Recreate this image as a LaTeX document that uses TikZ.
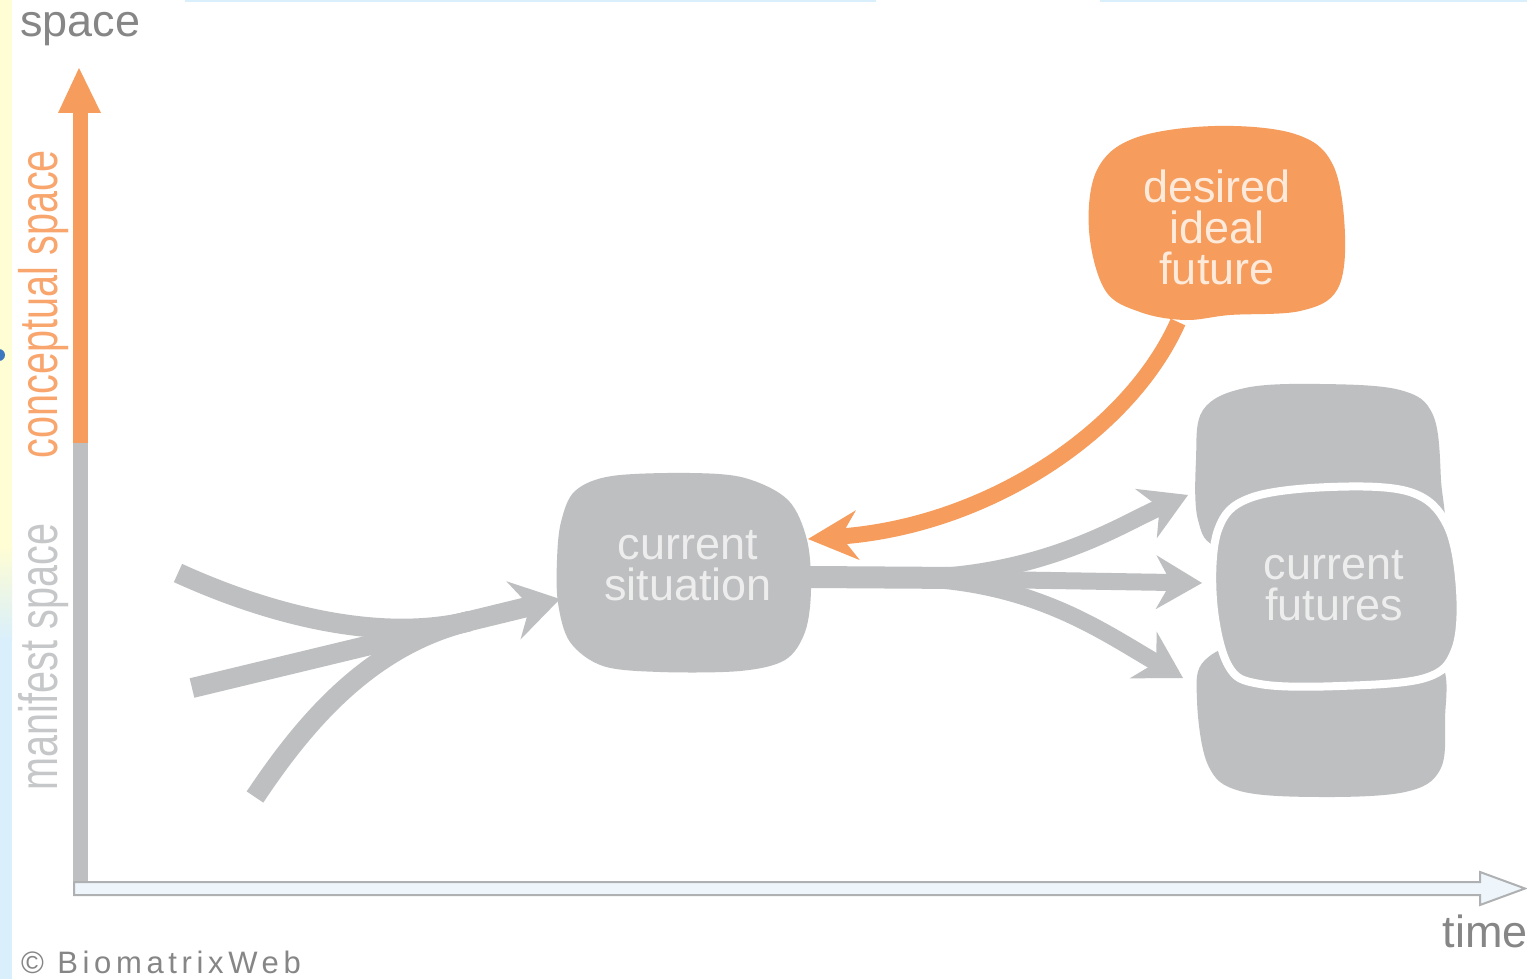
\documentclass[tikz,border=0pt]{standalone}
\usepackage{fontspec}
\setmainfont{Liberation Sans}
\newfontfamily\spacedfont[LetterSpace=15]{Liberation Sans}
\usetikzlibrary{arrows.meta}
\definecolor{blobgray}{HTML}{BEBFC1}
\definecolor{blobor}{HTML}{F69C5C}
\definecolor{lblor}{HTML}{F8A66E}
\definecolor{lblgray}{HTML}{C6C7C9}
\definecolor{txtgray}{HTML}{868686}
\definecolor{intxt}{HTML}{EDEDED}
\definecolor{intxtor}{HTML}{FDEADB}
\definecolor{stripy}{HTML}{FFFDD3}
\definecolor{stripb}{HTML}{D9EFFB}
\definecolor{axisfill}{HTML}{EEF6FC}
\definecolor{axisline}{HTML}{AEB0B2}
\definecolor{dotblue}{HTML}{3C78C0}
\begin{document}
\begin{tikzpicture}[x=1pt,y=-1pt,
  flow/.style={draw=blobgray, line width=20pt, line cap=butt},
  branch/.style={draw=blobgray, line width=17pt, line cap=butt,
    -{Stealth[length=46pt,width=54pt,inset=15pt,line width=0pt]}},
  lefthead/.style={-{Stealth[length=48pt,width=60pt,inset=17pt,line width=0pt]}},
  orangearrow/.style={draw=blobor, line width=16pt, line cap=butt,
    -{Stealth[length=50pt,width=50pt,inset=17pt,line width=0pt]}},
  bigtxt/.style={font=\fontsize{45}{41}\selectfont, align=center, inner sep=0pt},
  axislbl/.style={font=\fontsize{45}{45}\selectfont, text=txtgray, inner sep=0pt},
  sidelbl/.style={font=\fontsize{54}{54}\selectfont, inner sep=0pt, rotate=90, anchor=base}
]
\useasboundingbox (0,0) rectangle (1527,979);
% screenshot background
\fill[white] (0,0) rectangle (1527,979);
\fill[stripy] (0,0) rectangle (12,545);
\shade[top color=stripy, bottom color=stripb] (0,545) rectangle (12,640);
\fill[stripb] (0,640) rectangle (12,979);
\fill[stripb] (185,0) rectangle (876,2.5);
\fill[stripb] (1100,0) rectangle (1527,2.5);
\fill[dotblue] (-1,355) circle (6);

% vertical axis
\fill[blobor] (73,110) rectangle (88,443);
\fill[blobor] (79,68) -- (101,113) -- (58,113) -- cycle;
\fill[blobgray] (73,443) rectangle (88,886);
% horizontal axis
\filldraw[fill=axisfill, draw=axisline, line width=2pt, line join=miter]
  (74,882) -- (1480,882) -- (1480,872) -- (1525,888.5) -- (1480,905) -- (1480,895) -- (74,895) -- cycle;

% axis labels
\node[axislbl, anchor=base west] (spacelbl) at (20,37) {space};
\node[axislbl, anchor=base east] (timelbl) at (1528,947) {time};
\node[sidelbl, text=lblor] (concept) at (57,304) {\scalebox{0.733}[1]{conceptual space}};
\node[sidelbl, text=lblgray] (manifest) at (57,657) {\scalebox{0.733}[1]{manifest space}};
\node[font=\spacedfont\fontsize{31}{31}\selectfont, text=txtgray, inner sep=0pt, anchor=base west] (copy) at (21,973) {© BiomatrixWeb};

% blobs
\fill[blobgray] plot[smooth cycle, tension=0.55] coordinates {(557,560) (561,522) (575,491) (612,476) (690,473) (745,478) (788,500) (807,540) (811,590) (805,632) (785,660) (740,671) (660,672) (603,666) (570,642) (558,603)};
\fill[blobor] plot[smooth cycle, tension=0.6] coordinates {(1089,230) (1097,170) (1135,138) (1215,126) (1295,134) (1333,165) (1345,235) (1337,290) (1300,311) (1230,315) (1185,320) (1140,312) (1105,290)};
\fill[blobgray] plot[smooth cycle, tension=0.6] coordinates {(1196,460) (1203,410) (1245,388) (1320,384) (1400,390) (1433,415) (1441,480) (1440,540) (1380,555) (1300,555) (1220,548) (1198,520)};
\fill[blobgray] plot[smooth cycle, tension=0.6] coordinates {(1197,700) (1205,660) (1260,640) (1380,640) (1440,662) (1445,720) (1440,770) (1405,792) (1320,797) (1240,791) (1208,765)};
\filldraw[fill=blobgray, draw=white, line width=8pt] plot[smooth cycle, tension=0.6] coordinates {(1213,600) (1218,530) (1250,498) (1330,487) (1410,492) (1447,525) (1460,590) (1455,650) (1425,678) (1340,686) (1260,684) (1228,665)};

% text nodes
\node[bigtxt, text=intxt] (sit) at (688,566) {current\\situation};
\node[bigtxt, text=intxtor] (des) at (1217,227) {desired\\ideal\\future};
\node[bigtxt, text=intxt] (fut) at (1334,586) {current\\futures};

% anchor points
\coordinate (s1) at (178,573);
\coordinate (s2) at (192,688);
\coordinate (s3) at (255,797);
\coordinate (m1) at (470,621);
\coordinate (m0) at (441,628);
\coordinate (sitW) at (560,599);
\coordinate (sitE) at (810,577);
\coordinate (sitNE) at (808,539);
\coordinate (split) at (900,578);
\coordinate (shaftEnd) at (960,578);
\coordinate (desS) at (1178,322);
\coordinate (futTop) at (1188,495);
\coordinate (futMid) at (1202,583);
\coordinate (futBot) at (1183,678);

% incoming flows
\draw[flow] (s1) .. controls (270,615) and (380,643) .. (m1);
\draw[flow] (s2) -- (m1);
\draw[flow] (s3) .. controls (305,722) and (370,645) .. (m1);
\draw[flow, lefthead] (m0) -- (sitW);

% outgoing flows
\draw[flow, line width=22pt] (sitE) -- (shaftEnd);
\draw[branch] (split) .. controls (1040,578) and (1120,525) .. (futTop);
\draw[branch] (split) -- (futMid);
\draw[branch] (split) .. controls (1030,579) and (1100,630) .. (futBot);

% orange return arrow
\draw[orangearrow] (desS) .. controls (1130,430) and (990,525) .. (sitNE);
\end{tikzpicture}
\end{document}
